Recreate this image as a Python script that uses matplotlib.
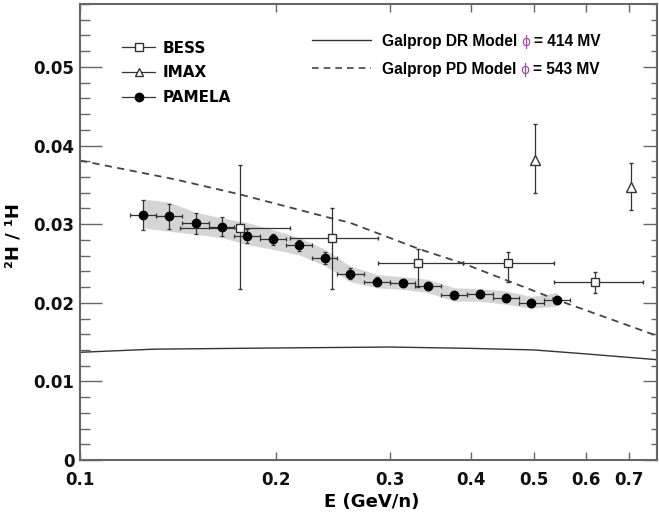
import numpy as np
import matplotlib
matplotlib.use('Agg')
import matplotlib.pyplot as plt
from matplotlib.lines import Line2D
from matplotlib.ticker import FixedLocator, NullLocator, NullFormatter, MultipleLocator, FuncFormatter

plt.rcParams['font.family'] = 'DejaVu Sans'
plt.rcParams['font.weight'] = 'bold'

# PAMELA points, bin edges, stat errors and systematic band
pam_e = [0.1252, 0.1372, 0.1507, 0.1652, 0.1807, 0.1982, 0.2173, 0.2384, 0.2603,
         0.2865, 0.3139, 0.3429, 0.3763, 0.4127, 0.4531, 0.4951, 0.5428]
pam_edges = [0.1194, 0.1309, 0.1438, 0.1577, 0.1729, 0.1892, 0.2075, 0.2275, 0.2490,
             0.2732, 0.3000, 0.3279, 0.3594, 0.3941, 0.4321, 0.4738, 0.5178, 0.5678]
pam_r = [0.0312, 0.0310, 0.0301, 0.0297, 0.0285, 0.0281, 0.0273, 0.0257, 0.0237,
         0.0227, 0.0225, 0.0221, 0.0210, 0.0211, 0.0206, 0.0200, 0.0203]
pam_err = [0.0019, 0.0016, 0.0013, 0.0012, 0.0009, 0.0007, 0.0007, 0.0008, 0.0007,
           0.0006, 0.0005, 0.0005, 0.0005, 0.0005, 0.0005, 0.0005, 0.0005]
band_hi = [0.0332, 0.0328, 0.0315, 0.0308, 0.0302, 0.0293, 0.0283, 0.0268, 0.0247,
           0.0236, 0.0233, 0.0230, 0.0219, 0.0218, 0.0215, 0.0208, 0.0213]
band_lo = [0.0295, 0.0291, 0.0287, 0.0283, 0.0274, 0.0268, 0.0261, 0.0247, 0.0227,
           0.0219, 0.0217, 0.0213, 0.0202, 0.0202, 0.0198, 0.0193, 0.0196]

# BESS
bess_e = [0.1763, 0.2440, 0.3316, 0.4552, 0.6204]
bess_r = [0.0295, 0.0282, 0.0250, 0.0250, 0.0226]
bess_elo = [0.1426, 0.2105, 0.2875, 0.3889, 0.5366]
bess_ehi = [0.2105, 0.2875, 0.3889, 0.5366, 0.7364]
bess_hi = [0.0375, 0.0321, 0.0268, 0.0265, 0.0239]
bess_lo = [0.0217, 0.0217, 0.0220, 0.0227, 0.0212]

# IMAX
imax_e = [0.5016, 0.7040]
imax_r = [0.0381, 0.0347]
imax_hi = [0.0427, 0.0378]
imax_lo = [0.0340, 0.0318]

# Galprop models
dr_e = [0.1, 0.13, 0.2, 0.3, 0.4, 0.5, 0.6, 0.773]
dr_r = [0.0137, 0.0141, 0.01425, 0.01437, 0.0142, 0.0140, 0.0135, 0.01276]
pd_e = [0.1, 0.14, 0.176, 0.2425, 0.26, 0.3336, 0.389, 0.545, 0.773]
pd_r = [0.0381, 0.0357, 0.0338, 0.0308, 0.0302, 0.0268, 0.0250, 0.0203, 0.0158]

xticks = [0.1, 0.2, 0.3, 0.4, 0.5, 0.6, 0.7]
xticklabels = ['0.1', '0.2', '0.3', '0.4', '0.5', '0.6', '0.7']

ink = '#333333'
frame = '#666666'

fig = plt.figure(figsize=(6.59, 5.16), dpi=100)
ax = fig.add_axes([0.1214, 0.1085, 0.8756, 0.8837])
ax.set_xscale('log')

ax.fill_between(pam_e, band_lo, band_hi, color='#d5d5d5', lw=0, zorder=1)

ax.plot(dr_e, dr_r, color=ink, lw=1.0, zorder=2)
ax.plot(pd_e, pd_r, color='#444444', lw=1.3, ls=(0, (4, 3)), zorder=2)

pe = np.array(pam_e)
pedg = np.array(pam_edges)
ax.errorbar(pam_e, pam_r, xerr=[pe - pedg[:-1], pedg[1:] - pe], yerr=pam_err,
            fmt='o', color='black', ecolor=ink, ms=6, elinewidth=0.9,
            capsize=1.5, capthick=0.9, zorder=4)

be = np.array(bess_e)
br = np.array(bess_r)
ax.errorbar(bess_e, bess_r,
            xerr=[be - np.array(bess_elo), np.array(bess_ehi) - be],
            yerr=[br - np.array(bess_lo), np.array(bess_hi) - br],
            fmt='s', color=ink, mfc='white', mec=ink, ms=6, mew=1.0,
            elinewidth=0.9, capsize=1.5, capthick=0.9, zorder=3)

ie = np.array(imax_r)
ax.errorbar(imax_e, imax_r,
            yerr=[ie - np.array(imax_lo), np.array(imax_hi) - ie],
            fmt='^', color=ink, mfc='white', mec=ink, ms=6.5, mew=1.0,
            elinewidth=0.9, capsize=1.5, capthick=0.9, zorder=3)

ax.set_xlim(0.1, 0.773)
ax.set_ylim(0, 0.058)

ax.xaxis.set_major_locator(FixedLocator(xticks))
ax.xaxis.set_minor_locator(NullLocator())
ax.xaxis.set_minor_formatter(NullFormatter())
ax.set_xticklabels(xticklabels)
ax.yaxis.set_major_locator(MultipleLocator(0.01))
ax.yaxis.set_minor_locator(MultipleLocator(0.002))
ax.yaxis.set_major_formatter(FuncFormatter(lambda v, p: '0' if abs(v) < 1e-9 else '%.2f' % v))

ax.tick_params(axis='x', which='major', direction='in', length=6, width=1,
               color=frame, top=True, labelsize=12, pad=8, labelcolor='#111111')
ax.tick_params(axis='y', which='major', direction='in', length=16, width=1,
               color=frame, labelsize=12, pad=4, labelcolor='#111111')
ax.tick_params(axis='y', which='minor', direction='in', length=7, width=1, color=frame)

sec = ax.secondary_yaxis('right')
sec.yaxis.set_major_locator(MultipleLocator(0.01))
sec.yaxis.set_minor_locator(MultipleLocator(0.002))
sec.tick_params(which='major', direction='in', length=10, width=1, color=frame, labelright=False)
sec.tick_params(which='minor', direction='in', length=4, width=1, color=frame)
sec.spines['right'].set_color(frame)
sec.spines['right'].set_linewidth(1.5)

for s in ax.spines.values():
    s.set_color(frame)
    s.set_linewidth(1.5)

ax.set_xlabel('E (GeV/n)', fontsize=13, fontweight='bold')
ax.xaxis.set_label_coords(0.506, -0.072)
ax.set_ylabel('²H / ¹H', fontsize=13, fontweight='bold')
ax.yaxis.set_label_coords(-0.1, 0.493)

h_bess = Line2D([], [], color=ink, lw=0.9, marker='s', mfc='white', mec=ink, ms=6)
h_imax = Line2D([], [], color=ink, lw=0.9, marker='^', mfc='white', mec=ink, ms=6)
h_pam = Line2D([], [], color=ink, lw=0.9, marker='o', mfc='black', mec='black', ms=6)
leg1 = ax.legend([h_bess, h_imax, h_pam], ['BESS', 'IMAX', 'PAMELA'],
                 loc='upper left', bbox_to_anchor=(0.073, 0.92), frameon=False,
                 borderpad=0, borderaxespad=0, handlelength=2.15, handletextpad=0.5,
                 labelspacing=0.65, numpoints=1,
                 prop={'weight': 'bold', 'size': 11, 'family': 'DejaVu Sans'})
ax.add_artist(leg1)

h_dr = Line2D([], [], color=ink, lw=1.0)
h_pd = Line2D([], [], color='#444444', lw=1.2, ls=(0, (4, 3)))
leg2 = ax.legend([h_dr, h_pd], ['Galprop DR Model', 'Galprop PD Model'],
                 loc='upper left', bbox_to_anchor=(0.402, 0.935), frameon=False,
                 borderpad=0, borderaxespad=0, handlelength=3.8, handletextpad=0.7,
                 labelspacing=0.85,
                 prop={'weight': 'bold', 'size': 11.2, 'family': 'Liberation Sans'})

fig.canvas.draw()
for t, mv in zip(leg2.get_texts(), ['= 414 MV', '= 543 MV']):
    phi = ax.annotate('ϕ', xy=(1, 0), xycoords=t, xytext=(3, 0),
                      textcoords='offset points', ha='left', va='bottom',
                      color='#a0509a', fontsize=10, fontweight='normal',
                      family='DejaVu Sans')
    ax.annotate(mv, xy=(1, 0), xycoords=phi, xytext=(2.5, 0),
                textcoords='offset points', ha='left', va='bottom',
                fontsize=11.2, fontweight='bold', family='Liberation Sans')

fig.canvas.draw()
fig.savefig('out.png', dpi=100)
